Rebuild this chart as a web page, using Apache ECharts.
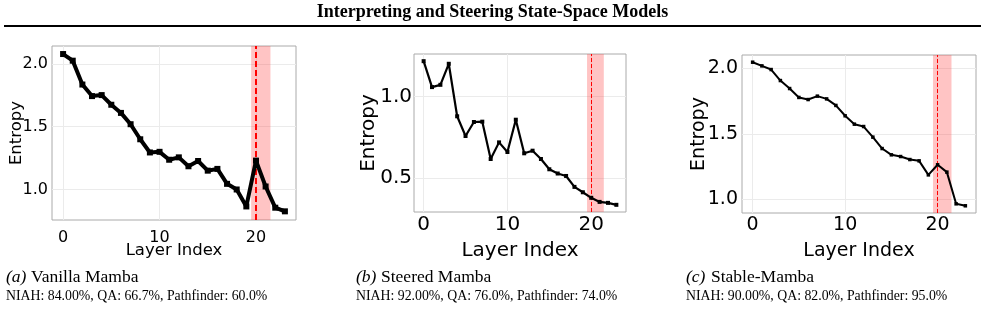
<!DOCTYPE html>
<html>
<head>
<meta charset="utf-8">
<script src="https://cdn.jsdelivr.net/npm/echarts@6/dist/echarts.min.js"></script>
<style>
html, body { margin: 0; padding: 0; background: #fff; }
#chart { width: 985px; height: 310px; }
</style>
</head>
<body>
<div id="chart"></div>
<script>
var myChart = echarts.init(document.getElementById("chart"));

// data
var layers = [0, 1, 2, 3, 4, 5, 6, 7, 8, 9, 10, 11, 12, 13, 14, 15, 16, 17, 18, 19, 20, 21, 22, 23];
var vanillaEntropy = [2.079, 2.026, 1.836, 1.744, 1.752, 1.675, 1.61, 1.52, 1.40, 1.295, 1.30, 1.237,
	1.256, 1.185, 1.227, 1.15, 1.164, 1.045, 1.0, 0.865, 1.23, 1.024, 0.855, 0.826];
var steeredEntropy = [1.216, 1.057, 1.071, 1.2, 0.878, 0.757, 0.843, 0.845, 0.616, 0.718, 0.659, 0.857,
	0.651, 0.667, 0.616, 0.553, 0.527, 0.512, 0.445, 0.412, 0.378, 0.353, 0.347, 0.335];
var stableEntropy = [2.048, 2.02, 1.992, 1.908, 1.847, 1.779, 1.763, 1.789, 1.768, 1.718, 1.639, 1.575,
	1.557, 1.476, 1.389, 1.341, 1.328, 1.305, 1.295, 1.188, 1.265, 1.209, 0.967, 0.952];
var xTicks = [0, 10, 20];
var yTicksA = [1.0, 1.5, 2.0];
var yTicksB = [0.5, 1.0];
var yTicksC = [1.0, 1.5, 2.0];
var steerLayer = 20;
var steerBand = [19.5, 21.5];
var panelTags = ["(a)", "(b)", "(c)"];
var panelNames = ["Vanilla Mamba", "Steered Mamba", "Stable-Mamba"];
var panelScores = [
	"NIAH: 84.00%, QA: 66.7%, Pathfinder: 60.0%",
	"NIAH: 92.00%, QA: 76.0%, Pathfinder: 74.0%",
	"NIAH: 90.00%, QA: 82.0%, Pathfinder: 95.0%"
];

function pairs(ys) {
	return layers.map(function (x, i) { return [x, ys[i]]; });
}

// per panel look
var panels = [
	{ grid: { left: 52, top: 46, width: 244, height: 174 }, ymin: 0.757, ymax: 2.143, yTicks: yTicksA, values: vanillaEntropy,
		font: 16, nameFont: 16.5, xMargin: 10, yMargin: 4, xGap: 22.5, yGap: 27, lw: 4, sym: 6, dashW: 2, dash: [6, 3], capX: 6 },
	{ grid: { left: 414, top: 54, width: 212, height: 158 }, ymin: 0.291, ymax: 1.26, yTicks: yTicksB, values: steeredEntropy,
		font: 20, nameFont: 20, xMargin: 3, yMargin: 2, xGap: 29, yGap: 35, lw: 2.2, sym: 4, dashW: 1, dash: [4, 2], capX: 356 },
	{ grid: { left: 742, top: 55, width: 234, height: 158 }, ymin: 0.897, ymax: 2.103, yTicks: yTicksC, values: stableEntropy,
		font: 19, nameFont: 19, xMargin: 3, yMargin: 4, xGap: 28.5, yGap: 33.5, lw: 2, sym: 3.5, dashW: 1, dash: [4, 2], capX: 686 }
];

var capFont = 17.5;
var tagWidth = 25; // "(a) " in italic serif at capFont

var grids = [], xAxes = [], yAxes = [], series = [], graphics = [];
panels.forEach(function (p, i) {
	grids.push(Object.assign({ show: true, borderColor: "#aaaaaa", borderWidth: 1, backgroundColor: "#fff" }, p.grid));
	xAxes.push({
		type: "value", gridIndex: i, min: -1.15, max: 24.15,
		name: "Layer Index", nameLocation: "middle", nameGap: p.xGap, nameMoveOverlap: false,
		nameTextStyle: { fontFamily: "DejaVu Sans", fontSize: p.nameFont, color: "#000" },
		axisLine: { show: false },
		axisTick: { show: false, customValues: xTicks },
		axisLabel: { customValues: xTicks, fontFamily: "DejaVu Sans", fontSize: p.font, color: "#000", margin: p.xMargin },
		splitLine: { show: true, lineStyle: { color: "#ebebeb", width: 1 } }
	});
	yAxes.push({
		type: "value", gridIndex: i, min: p.ymin, max: p.ymax,
		name: "Entropy", nameLocation: "middle", nameGap: p.yGap, nameMoveOverlap: false,
		nameTextStyle: { fontFamily: "DejaVu Sans", fontSize: p.nameFont, color: "#000" },
		axisLine: { show: false },
		axisTick: { show: false, customValues: p.yTicks },
		axisLabel: { customValues: p.yTicks, fontFamily: "DejaVu Sans", fontSize: p.font, color: "#000", margin: p.yMargin,
			formatter: function (v) { return v.toFixed(1); } },
		splitLine: { show: true, lineStyle: { color: "#ebebeb", width: 1 } }
	});
	series.push({
		type: "line", xAxisIndex: i, yAxisIndex: i,
		data: pairs(p.values),
		symbol: "rect", symbolSize: p.sym,
		lineStyle: { color: "#000", width: p.lw },
		itemStyle: { color: "#000" },
		z: 5,
		markArea: {
			silent: true,
			itemStyle: { color: "rgba(255, 60, 60, 0.3)" },
			data: [[{ xAxis: steerBand[0] }, { xAxis: steerBand[1] }]]
		},
		markLine: {
			silent: true, symbol: "none", label: { show: false },
			lineStyle: { color: "#ff0000", width: p.dashW, type: p.dash },
			data: [{ xAxis: steerLayer }]
		}
	});
	// caption under each panel
	graphics.push({
		type: "text", left: p.capX, top: 268,
		style: { text: panelTags[i], fontFamily: "Liberation Serif", fontStyle: "italic", fontSize: capFont, fill: "#000" }
	});
	graphics.push({
		type: "text", left: p.capX + tagWidth, top: 268,
		style: { text: panelNames[i], fontFamily: "Liberation Serif", fontSize: capFont, fill: "#000" }
	});
	graphics.push({
		type: "text", left: p.capX, top: 289,
		style: { text: panelScores[i], fontFamily: "Liberation Serif", fontSize: 13.8, fill: "#000" }
	});
});

graphics.push({
	type: "text", left: "center", top: 3,
	style: { text: "Interpreting and Steering State-Space Models", fontFamily: "Liberation Serif",
		fontWeight: "bold", fontSize: 18, fill: "#000" }
});
graphics.push({
	type: "rect", shape: { x: 4, y: 25, width: 977, height: 2 },
	style: { fill: "#000" }
});

var option = {
	animation: false,
	grid: grids,
	xAxis: xAxes,
	yAxis: yAxes,
	series: series,
	graphic: graphics
};

myChart.setOption(option);
</script>
</body>
</html>
